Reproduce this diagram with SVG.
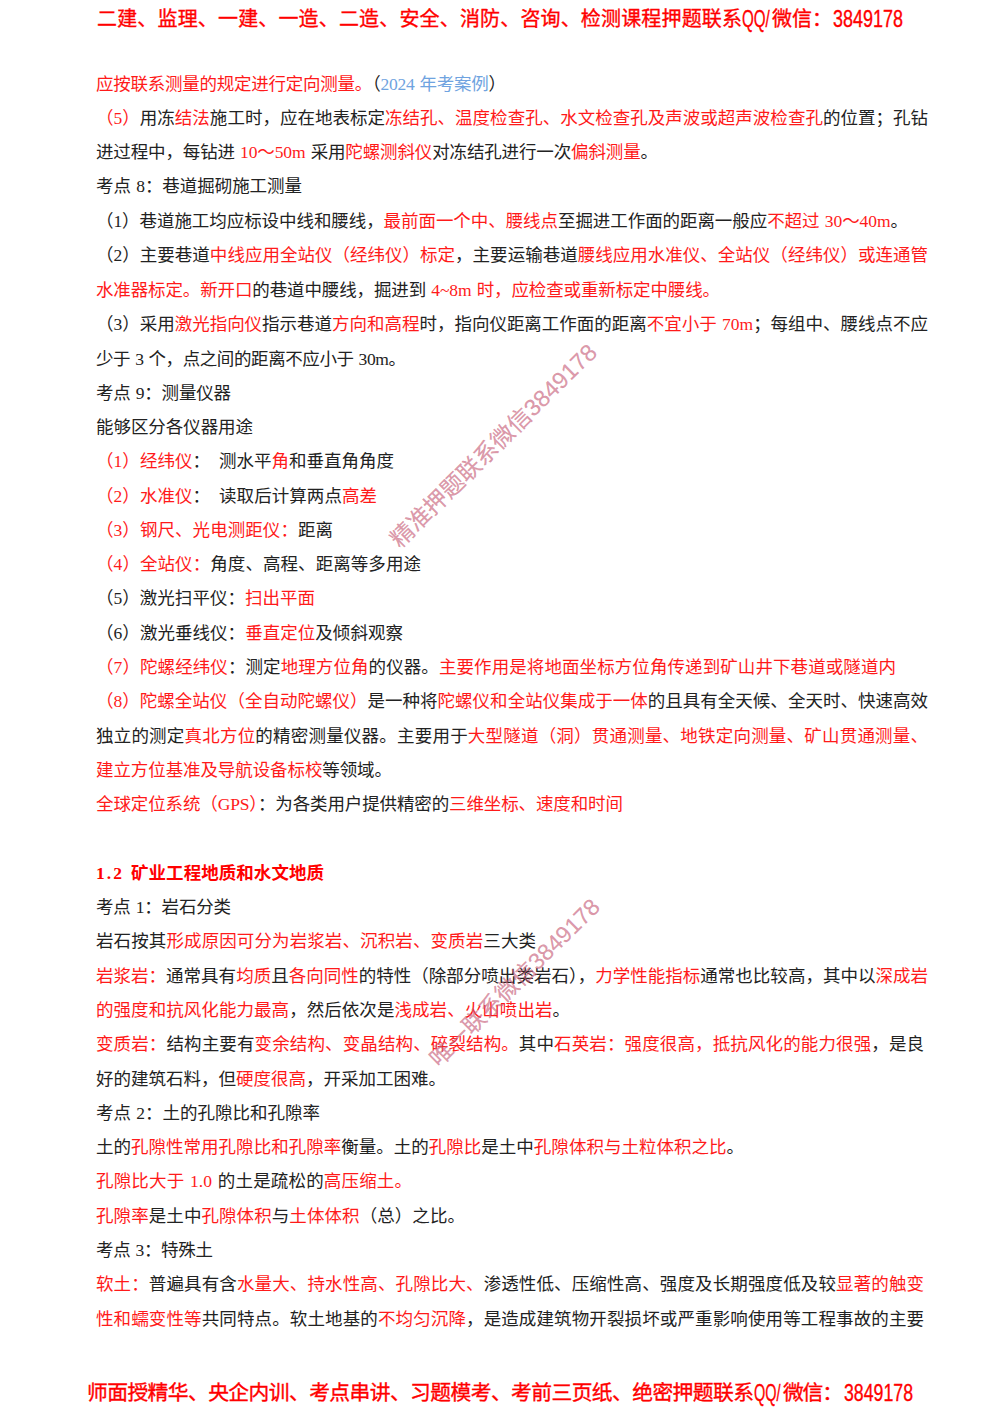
<svg xmlns="http://www.w3.org/2000/svg" width="1000" height="1414" viewBox="0 0 1000 1414">
<style>
text{font-family:"Liberation Serif","Noto Sans CJK SC",sans-serif;font-size:17.5px;fill:#222;white-space:pre;word-spacing:1px}
.r{fill:#ff1a1a}
.b{fill:#6fa3e0}
.h{font-family:"Liberation Sans","Noto Sans CJK SC",sans-serif;font-size:20px;fill:#f00;stroke:#f00;stroke-width:.35px}
.n{font-size:23px}
.f{font-size:20.800px}
.s{font-weight:700;fill:#f00}
.w{font-family:"Liberation Sans","Noto Sans CJK SC",sans-serif;font-size:23.400px;fill:#c8607a;fill-opacity:.65;stroke:#c8607a;stroke-opacity:.4;stroke-width:.3px}
</style>
<rect width="1000" height="1414" fill="#fff"/>
<text class="h" x="97" y="26" textLength="645">二建、监理、一建、一造、二造、安全、消防、咨询、检测课程押题联系</text>
<text class="h n" transform="translate(742 27) scale(.66 1)">QQ/</text>
<text class="h" x="772" y="26" textLength="60">微信：</text>
<text class="h n" x="833" y="27" textLength="70" lengthAdjust="spacingAndGlyphs">3849178</text>
<text x="96" y="90" textLength="410"><tspan class="r">应按联系测量的规定进行定向测量。</tspan>（<tspan class="b">2024 年考案例</tspan>）</text>
<text x="96" y="124" textLength="832"><tspan class="r">（5）</tspan>用冻<tspan class="r">结法</tspan>施工时，应在地表标定<tspan class="r">冻结孔、温度检查孔、水文检查孔及声波或超声波检查孔</tspan>的位置；孔钻</text>
<text x="96" y="158" textLength="562">进过程中，每钻进 <tspan class="r">10～50m</tspan> 采用<tspan class="r">陀螺测斜仪</tspan>对冻结孔进行一次<tspan class="r">偏斜测量</tspan>。</text>
<text x="96" y="192" textLength="206">考点 8：巷道掘砌施工测量</text>
<text x="96" y="227" textLength="812">（1）巷道施工均应标设中线和腰线，<tspan class="r">最前面一个中、腰线点</tspan>至掘进工作面的距离一般应<tspan class="r">不超过 30～40m</tspan>。</text>
<text x="96" y="261" textLength="832">（2）主要巷道<tspan class="r">中线应用全站仪（经纬仪）标定</tspan>，主要运输巷道<tspan class="r">腰线应用水准仪、全站仪（经纬仪）或连通管</tspan></text>
<text x="96" y="296" textLength="624"><tspan class="r">水准器标定。新开口</tspan>的巷道中腰线，掘进到 <tspan class="r">4~8m 时，应检查或重新标定中腰线。</tspan></text>
<text x="96" y="330" textLength="832">（3）采用<tspan class="r">激光指向仪</tspan>指示巷道<tspan class="r">方向和高程</tspan>时，指向仪距离工作面的距离<tspan class="r">不宜小于 70m</tspan>；每组中、腰线点不应</text>
<text x="96" y="365" textLength="310">少于 3 个，点之间的距离不应小于 30m。</text>
<text x="96" y="399" textLength="135">考点 9：测量仪器</text>
<text x="96" y="433" textLength="157">能够区分各仪器用途</text>
<text x="96" y="467" textLength="114"><tspan class="r">（1）经纬仪</tspan>：</text>
<text x="219" y="467" textLength="175">测水平<tspan class="r">角</tspan>和垂直角角度</text>
<text x="96" y="502" textLength="114"><tspan class="r">（2）水准仪</tspan>：</text>
<text x="219" y="502" textLength="158">读取后计算两点<tspan class="r">高差</tspan></text>
<text x="96" y="536" textLength="237"><tspan class="r">（3）钢尺、光电测距仪：</tspan>距离</text>
<text x="96" y="570" textLength="325"><tspan class="r">（4）全站仪：</tspan>角度、高程、距离等多用途</text>
<text x="96" y="604" textLength="219">（5）激光扫平仪：<tspan class="r">扫出平面</tspan></text>
<text x="96" y="639" textLength="307">（6）激光垂线仪：<tspan class="r">垂直定位</tspan>及倾斜观察</text>
<text x="96" y="673" textLength="800"><tspan class="r">（7）陀螺经纬仪</tspan>：测定<tspan class="r">地理方位角</tspan>的仪器。<tspan class="r">主要作用是将地面坐标方位角传递到矿山井下巷道或隧道内</tspan></text>
<text x="96" y="707" textLength="832"><tspan class="r">（8）陀螺全站仪（全自动陀螺仪）</tspan>是一种将<tspan class="r">陀螺仪和全站仪集成于一体</tspan>的且具有全天候、全天时、快速高效</text>
<text x="96" y="742" textLength="832">独立的测定<tspan class="r">真北方位</tspan>的精密测量仪器。主要用于<tspan class="r">大型隧道（洞）贯通测量、地铁定向测量、矿山贯通测量、</tspan></text>
<text x="96" y="776" textLength="296"><tspan class="r">建立方位基准及导航设备标校</tspan>等领域。</text>
<text x="96" y="810" textLength="527"><tspan class="r">全球定位系统（GPS）</tspan>：为各类用户提供精密的<tspan class="r">三维坐标、速度和时间</tspan></text>
<text class="s" x="96" y="879" textLength="26">1.2</text>
<text class="s" x="131" y="879" textLength="193">矿业工程地质和水文地质</text>
<text x="96" y="913" textLength="135">考点 1：岩石分类</text>
<text x="96" y="947" textLength="440">岩石按其<tspan class="r">形成原因可分为岩浆岩、沉积岩、变质岩</tspan>三大类</text>
<text x="96" y="982" textLength="832"><tspan class="r">岩浆岩：</tspan>通常具有<tspan class="r">均质</tspan>且<tspan class="r">各向同性</tspan>的特性（除部分喷出类岩石），<tspan class="r">力学性能指标</tspan>通常也比较高，其中以<tspan class="r">深成岩</tspan></text>
<text x="96" y="1016" textLength="474"><tspan class="r">的强度和抗风化能力最高</tspan>，然后依次是<tspan class="r">浅成岩、火山喷出岩</tspan>。</text>
<text x="96" y="1050" textLength="828"><tspan class="r">变质岩：</tspan>结构主要有<tspan class="r">变余结构、变晶结构、碎裂结构。</tspan>其中<tspan class="r">石英岩：强度很高，抵抗风化的能力很强</tspan>，是良</text>
<text x="96" y="1085" textLength="350">好的建筑石料，但<tspan class="r">硬度很高</tspan>，开采加工困难。</text>
<text x="96" y="1119" textLength="224">考点 2：土的孔隙比和孔隙率</text>
<text x="96" y="1153" textLength="648">土的<tspan class="r">孔隙性常用孔隙比和孔隙率</tspan>衡量。土的<tspan class="r">孔隙比</tspan>是土中<tspan class="r">孔隙体积与土粒体积之比</tspan>。</text>
<text x="96" y="1187" textLength="316"><tspan class="r">孔隙比大于 1.0</tspan> 的土是疏松的<tspan class="r">高压缩土。</tspan></text>
<text x="96" y="1222" textLength="369"><tspan class="r">孔隙率</tspan>是土中<tspan class="r">孔隙体积</tspan>与<tspan class="r">土体体积</tspan>（总）之比。</text>
<text x="96" y="1256" textLength="117">考点 3：特殊土</text>
<text x="96" y="1290" textLength="828"><tspan class="r">软土：</tspan>普遍具有含<tspan class="r">水量大、持水性高、孔隙比大、</tspan>渗透性低、压缩性高、强度及长期强度低及较<tspan class="r">显著的触变</tspan></text>
<text x="96" y="1325" textLength="828"><tspan class="r">性和蠕变性等</tspan>共同特点。软土地基的<tspan class="r">不均匀沉降</tspan>，是造成建筑物开裂损坏或严重影响使用等工程事故的主要</text>
<text class="h f" x="87" y="1400" textLength="667">师面授精华、央企内训、考点串讲、习题模考、考前三页纸、绝密押题联系</text>
<text class="h n" transform="translate(754 1401) scale(.63 1)">QQ/</text>
<text class="h f" x="783" y="1400" textLength="60">微信：</text>
<text class="h n" x="844" y="1401" textLength="69" lengthAdjust="spacingAndGlyphs">3849178</text>
<text class="w" transform="translate(400 549) rotate(-44.500)">精准押题联系微信3849178</text>
<text class="w" style="font-size:23px" transform="translate(439 1068) rotate(-44.500)">唯一联系微信3849178</text>
</svg>
